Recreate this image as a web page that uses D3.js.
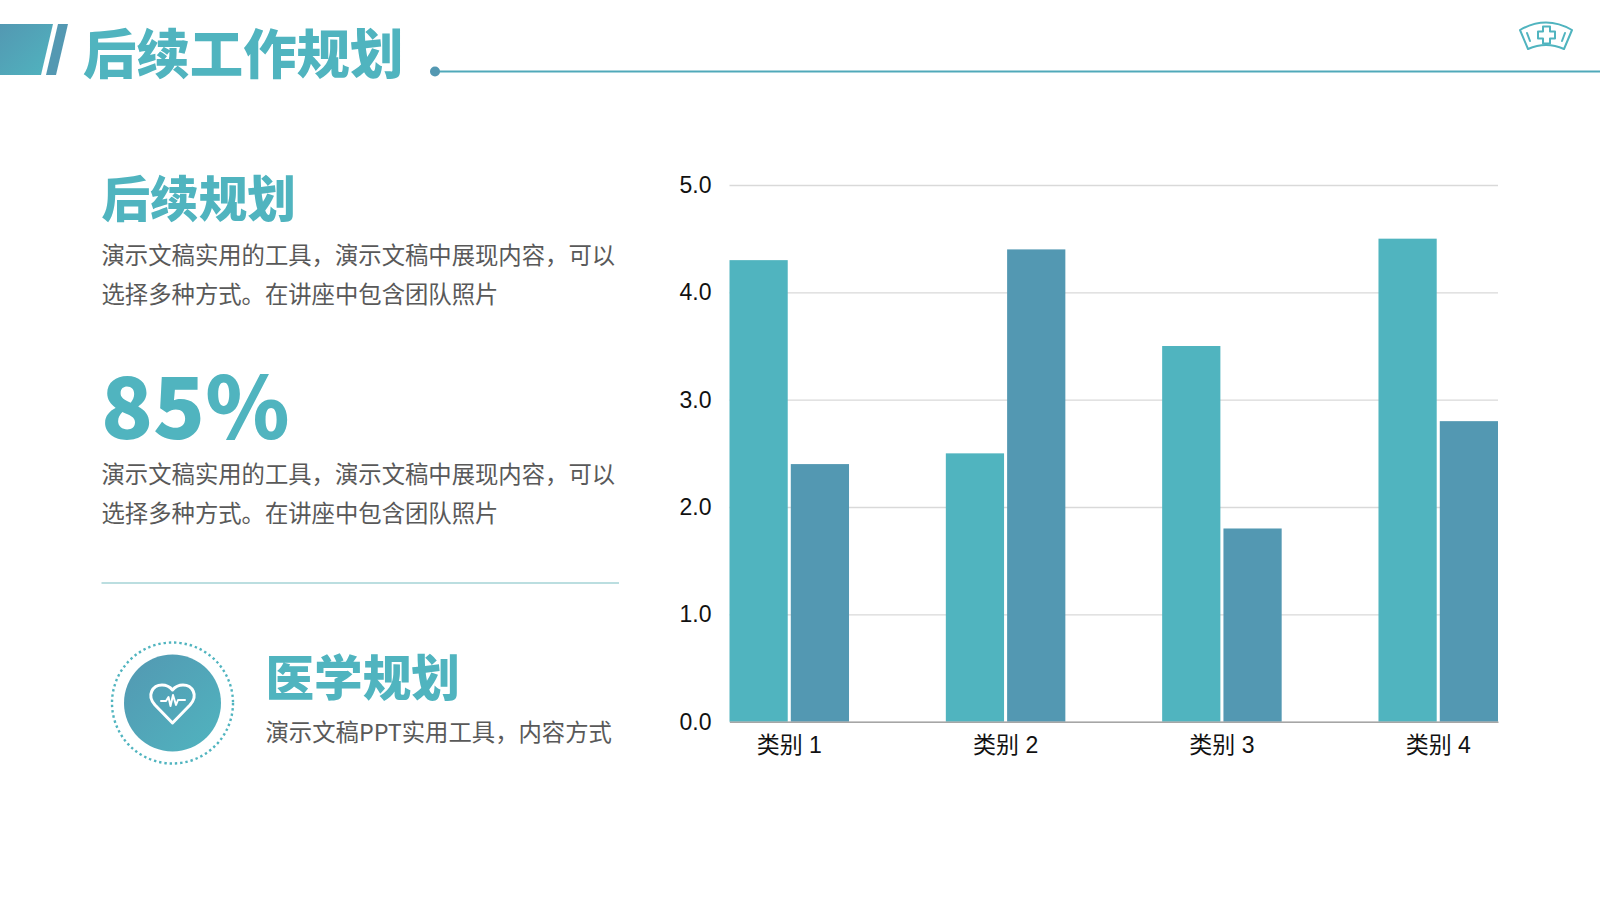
<!DOCTYPE html>
<html>
<head>
<meta charset="utf-8">
<style>
    html, body { margin: 0; padding: 0; background: #fff; }
    svg { display: block; }
    text { font-family: "Noto Sans CJK SC", sans-serif; }
    .body-text { fill: #595959; font-size: 23.35px; }
    .heading { fill: #50b4bf; font-weight: 900; }
    .axis text { font-family: "Liberation Sans", "Noto Sans CJK SC", sans-serif; font-size: 23px; fill: #111; }
    .grid line { stroke: #d9d9d9; stroke-width: 1.3; }
    .grid path { display: none; }
</style>
</head>
<body>
<svg id="slide" width="1600" height="900"></svg>
<script src="https://cdn.jsdelivr.net/npm/d3@7"></script>
<script>
    const categories = ["类别 1", "类别 2", "类别 3", "类别 4"]
    const series1 = [4.3, 2.5, 3.5, 4.5]
    const series2 = [2.4, 4.4, 1.8, 2.8]
    const yTicks = [0, 1, 2, 3, 4, 5]
    const bodyLines = ["演示文稿实用的工具，演示文稿中展现内容，可以", "选择多种方式。在讲座中包含团队照片"]

    const svg = d3.select("#slide")

    // gradient used by the header shapes and the round badge
    const defs = svg.append("defs")
    const grad = defs.append("linearGradient").attr("id", "teal")
        .attr("x1", "0%").attr("y1", "0%").attr("x2", "100%").attr("y2", "100%")
    grad.append("stop").attr("offset", "0%").attr("stop-color", "#5398b2")
    grad.append("stop").attr("offset", "100%").attr("stop-color", "#50b4bf")

    drawHeader()
    drawLeftColumn()
    drawChart()

    function drawHeader() {
        svg.append("path").attr("d", "M0,24H53L41,75H0Z").attr("fill", "url(#teal)")
        svg.append("path").attr("d", "M58,24H68L56,75H46Z").attr("fill", "#5398b2")
        svg.append("text").attr("x", 83).attr("y", 73.5)
            .attr("font-size", 53.4).attr("font-weight", 900).attr("fill", "#50b4bf")
            .text("后续工作规划")
        svg.append("line").attr("x1", 435).attr("x2", 1600).attr("y1", 71.5).attr("y2", 71.5)
            .attr("stroke", "#50a9ba").attr("stroke-width", 2)
        svg.append("circle").attr("cx", 435).attr("cy", 71.5).attr("r", 5).attr("fill", "#5398b2")

        // nurse cap icon
        const cap = svg.append("g").attr("fill", "none").attr("stroke", "#50b4bf").attr("stroke-width", 2)
            .attr("stroke-linejoin", "round").attr("stroke-linecap", "round")
        cap.append("path").attr("d", "M1520,30Q1546,15 1572,30L1564,49Q1546,41 1528,49Z")
        cap.append("path").attr("d", "M1543,26.5h7v5h5v7h-5v5h-7v-5h-5v-7h5Z")
        cap.append("path").attr("d", "M1527,33L1530,41M1565,33L1562,41")
    }

    function drawLeftColumn() {
        svg.append("text").attr("class", "heading").attr("x", 101.5).attr("y", 216.5)
            .attr("font-size", 48.6).text("后续规划")
        drawBody(264)

        svg.append("text").attr("class", "heading").attr("x", 101).attr("y", 439)
            .attr("font-size", 85.5).text("85%")
        drawBody(482.5)

        svg.append("line").attr("x1", 101.5).attr("x2", 619).attr("y1", 583).attr("y2", 583)
            .attr("stroke", "#a5d3d6").attr("stroke-width", 1.5)

        svg.append("circle").attr("cx", 172.5).attr("cy", 703).attr("r", 60.5)
            .attr("fill", "none").attr("stroke", "#50b4bf").attr("stroke-width", 2.4)
            .attr("stroke-dasharray", "2.4 2.9")
        svg.append("circle").attr("cx", 172.5).attr("cy", 703).attr("r", 48.5).attr("fill", "url(#teal)")

        // heart with pulse line
        const heart = svg.append("g").attr("fill", "none").attr("stroke", "#fff").attr("stroke-width", 3)
            .attr("stroke-linejoin", "round").attr("stroke-linecap", "round")
        heart.append("path").attr("d", "M172.5,723L155,705C146,695 153,685 162,685C167,685 170,687 172.5,690C175,687 178,685 183,685C192,685 199,695 190,705Z")
        heart.append("path").attr("stroke-width", 2)
            .attr("d", "M161,701H166L168.5,697L170.5,706L173,695L176,705L178,700H185")

        svg.append("text").attr("class", "heading").attr("x", 265.5).attr("y", 695.5)
            .attr("font-size", 48.6).text("医学规划")
        svg.append("text").attr("class", "body-text").attr("x", 265.5).attr("y", 741)
            .text("演示文稿PPT实用工具，内容方式")
    }

    function drawBody(y0) {
        svg.selectAll(null).data(bodyLines).enter().append("text")
            .attr("class", "body-text").attr("x", 101.5)
            .attr("y", (d, i) => y0 + i * 39)
            .text(d => d)
    }

    function drawChart() {
        const left = 729.5, right = 1498, top = 185, bottom = 721.7

        const x = d3.scaleBand().domain(categories).range([left, right])
            .paddingInner(0.4475).paddingOuter(0)
        const xInner = d3.scaleBand().domain([0, 1]).range([0, x.bandwidth()]).paddingInner(0.05)
        const y = d3.scaleLinear().domain([0, 5]).range([bottom, top])

        svg.append("g").attr("class", "grid")
            .attr("transform", `translate(${left},0)`)
            .call(d3.axisLeft(y).tickValues(yTicks).tickSize(-(right - left)).tickFormat(""))

        const groups = svg.selectAll("g.cat").data(categories).enter().append("g")
            .attr("class", "cat")
            .attr("transform", d => `translate(${x(d)},0)`)

        groups.append("rect")
            .attr("x", xInner(0)).attr("width", xInner.bandwidth())
            .attr("y", (d, i) => y(series1[i]))
            .attr("height", (d, i) => bottom - y(series1[i]))
            .attr("fill", "#50b4bf")
        groups.append("rect")
            .attr("x", xInner(1)).attr("width", xInner.bandwidth())
            .attr("y", (d, i) => y(series2[i]))
            .attr("height", (d, i) => bottom - y(series2[i]))
            .attr("fill", "#5398b2")

        const yAxis = svg.append("g").attr("class", "axis")
            .attr("transform", "translate(" + left + ",0)")
            .call(d3.axisLeft(y).tickValues(yTicks).tickSize(0).tickPadding(18).tickFormat(d3.format(".1f")))
        yAxis.select("path").remove()

        const xAxis = svg.append("g").attr("class", "axis")
            .attr("transform", `translate(0,${bottom})`)
            .call(d3.axisBottom(x).tickSize(0).tickPadding(15))
        xAxis.select("path").attr("stroke", "#a6a6a6").attr("stroke-width", 1.5)
    }
</script>
</body>
</html>
